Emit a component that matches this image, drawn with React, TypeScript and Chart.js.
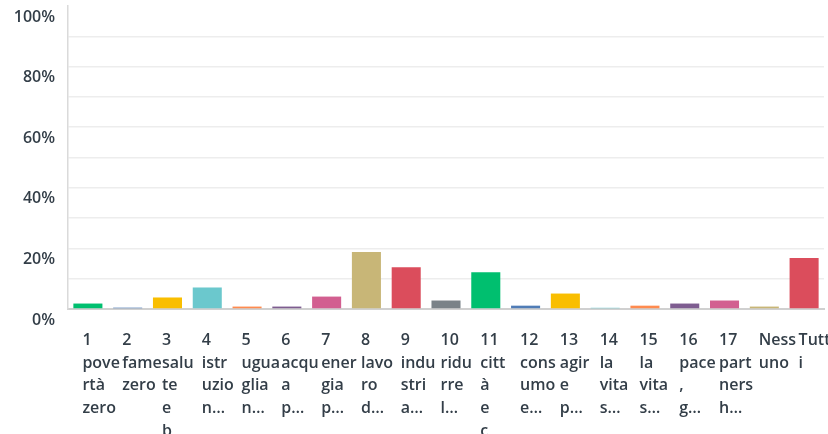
import React, { useEffect, useRef } from 'react';
import { Chart, registerables } from 'chart.js';

Chart.register(...registerables);

// Category labels (already wrapped as shown in the reference)
const categoryLabels: string[][] = [
  ['1', 'pove', 'rtà', 'zero'],
  ['2', 'fame', 'zero'],
  ['3', 'salu', 'te', 'e', 'b'],
  ['4', 'istr', 'uzio', 'n…'],
  ['5', 'ugua', 'glia', 'n…'],
  ['6', 'acqu', 'a', 'p…'],
  ['7', 'ener', 'gia', 'p…'],
  ['8', 'lavo', 'ro', 'd…'],
  ['9', 'indu', 'stri', 'a…'],
  ['10', 'ridu', 'rre', 'l…'],
  ['11', 'citt', 'à', 'e', 'c'],
  ['12', 'cons', 'umo', 'e…'],
  ['13', 'agir', 'e', 'p…'],
  ['14', 'la', 'vita', 's…'],
  ['15', 'la', 'vita', 's…'],
  ['16', 'pace', ',', 'g…'],
  ['17', 'part', 'ners', 'h…'],
  ['Ness', 'uno'],
  ['Tutt', 'i'],
];

// Percent of respondents per category
const responsePercents: number[] = [
  1.8, 0.45, 3.8, 7.1, 0.8, 0.8, 4.1, 18.8, 13.8, 2.8,
  12.1, 1.1, 5.1, 0.4, 1.1, 1.8, 2.8, 0.8, 16.8,
];

const barColors: string[] = [
  '#00BF6F', '#507CB6', '#F9BE00', '#6BC8CD', '#FF8B4F',
  '#7E5D90', '#D25F90', '#C8B677', '#DB4D5C', '#7A8288',
  '#00BF6F', '#507CB6', '#F9BE00', '#6BC8CD', '#FF8B4F',
  '#7E5D90', '#D25F90', '#C8B677', '#DB4D5C',
];

const yMin = 0;
const yMax = 100;
const yGridStep = 10;
const yLabelStep = 20;

const TEXT_COLOR = '#333E48';
const FONT_FAMILY = "'Open Sans', sans-serif";

export default function App() {
  const canvasRef = useRef<HTMLCanvasElement | null>(null);

  useEffect(() => {
    if (!canvasRef.current) return;
    const chart = new Chart(canvasRef.current, {
      type: 'bar',
      data: {
        labels: categoryLabels,
        datasets: [
          {
            data: responsePercents,
            backgroundColor: barColors,
            borderWidth: 0,
            categoryPercentage: 1,
            barPercentage: 0.73,
          },
        ],
      },
      options: {
        animation: false,
        responsive: false,
        maintainAspectRatio: false,
        layout: { padding: { top: 6, right: 4, left: 0, bottom: 0 } },
        plugins: {
          legend: { display: false },
          tooltip: { enabled: false },
        },
        scales: {
          x: {
            grid: { display: false, drawTicks: false },
            border: { display: true, color: '#D0D0D0', width: 2 },
            ticks: {
              autoSkip: false,
              maxRotation: 0,
              minRotation: 0,
              align: 'start',
              labelOffset: -5.5,
              padding: 20,
              color: TEXT_COLOR,
              font: { family: FONT_FAMILY, size: 16, weight: '600', lineHeight: 1.42 },
            },
            afterFit: (scale: any) => {
              scale.height = 125;
              scale.paddingLeft = 0;
              scale.paddingRight = 0;
            },
          },
          y: {
            min: yMin,
            max: yMax,
            grid: {
              drawTicks: false,
              color: (ctx: any) =>
                ctx.tick && (ctx.tick.value === yMax || ctx.tick.value === yMin)
                  ? 'rgba(0,0,0,0)'
                  : '#EDEDED',
              lineWidth: 1.5,
            },
            border: { display: true, color: '#DADADA', width: 1.5 },
            ticks: {
              stepSize: yGridStep,
              padding: 13,
              labelOffset: 11,
              color: TEXT_COLOR,
              font: { family: FONT_FAMILY, size: 16, weight: '600' },
              callback: (v: any) => (Number(v) % yLabelStep === 0 ? `${v}%` : ''),
            },
            afterFit: (scale: any) => {
              scale.width = 68;
              scale.paddingTop = 0;
              scale.paddingBottom = 0;
            },
          },
        },
      },
    });
    return () => chart.destroy();
  }, []);

  return (
    <div
      style={{
        position: 'absolute',
        left: 0,
        top: 0,
        width: 828,
        height: 434,
        overflow: 'hidden',
        background: '#fff',
      }}
    >
      <canvas ref={canvasRef} width={828} height={434} style={{ width: 828, height: 434 }} />
    </div>
  );
}
